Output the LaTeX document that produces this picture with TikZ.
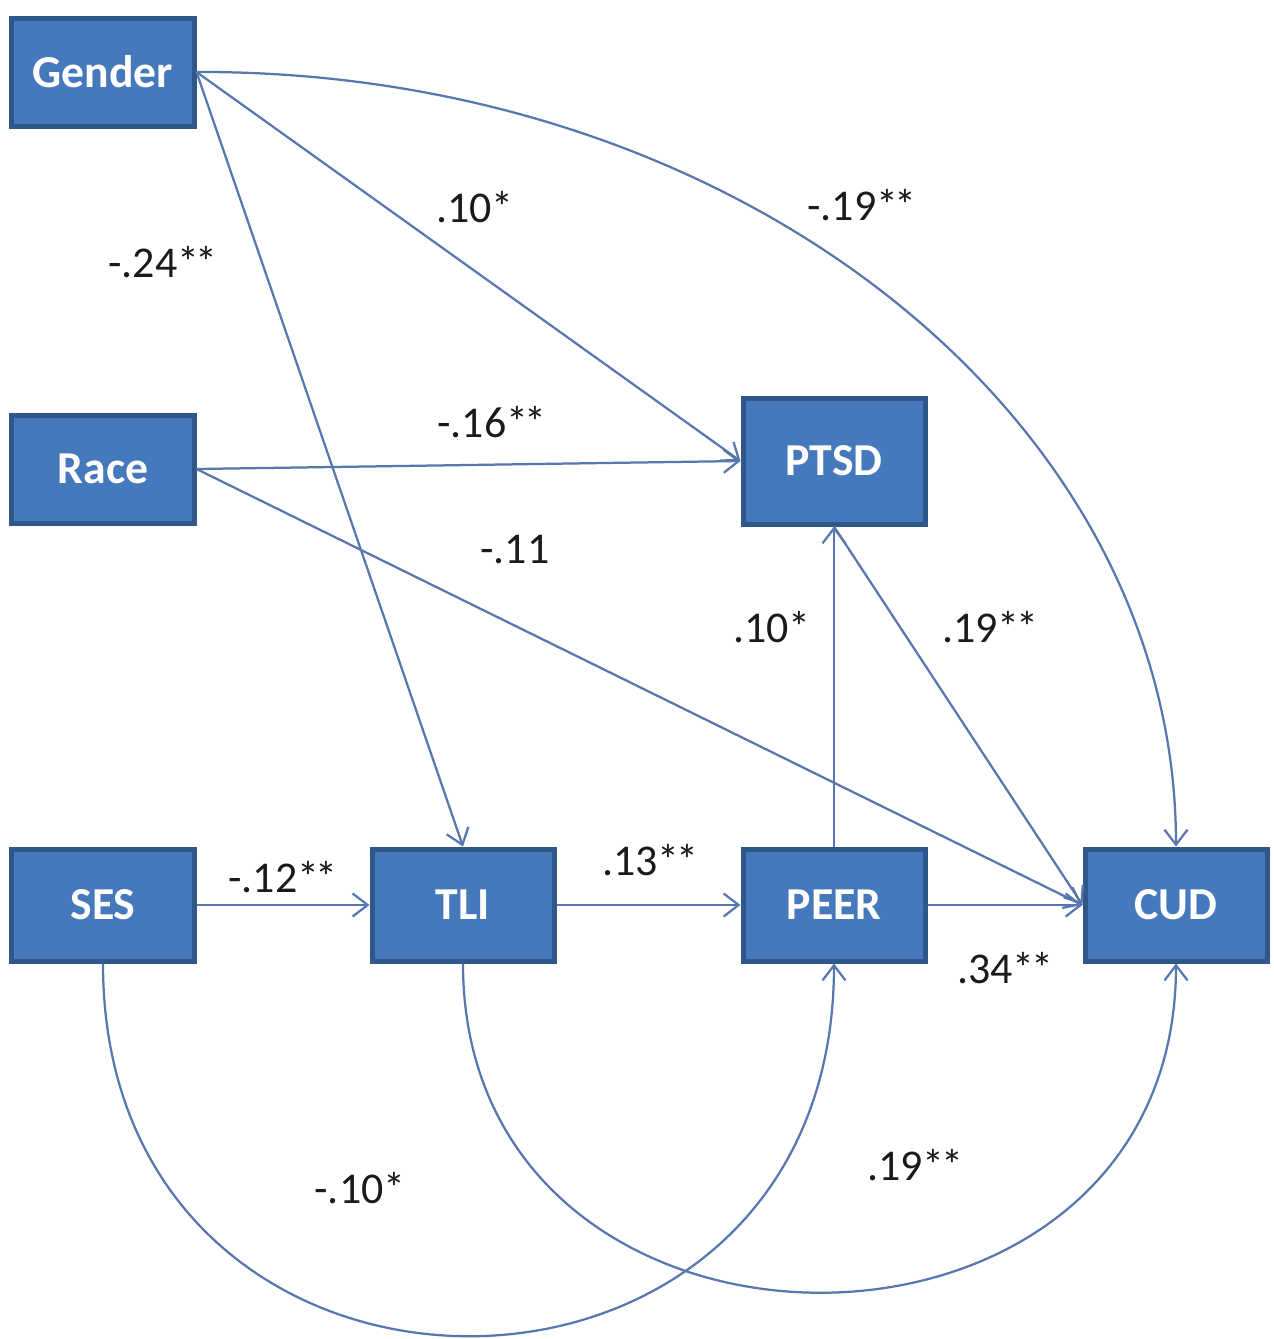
\documentclass[tikz,border=0pt]{standalone}
\usepackage{fontspec}
\setmainfont{Carlito}
\usepackage{xcolor}
\usetikzlibrary{arrows.meta,positioning}
\definecolor{Box}{HTML}{4579BC}
\definecolor{BoxEdge}{HTML}{2F578A}
\definecolor{Link}{HTML}{5877AE}
\definecolor{Ink}{HTML}{1A1A1A}
\newcommand{\sig}{*\kern-2pt*}
\tikzset{
  var/.style={draw=BoxEdge,fill=Box,line width=1mm,minimum width=36.4mm,minimum height=21.6mm,
    text=white,font=\bfseries\fontsize{26}{30}\selectfont},
  link/.style={Link,line width=0.45mm,-{Straight Barb[length=3mm,width=4.6mm]}},
  coef/.style={text=Ink,font=\fontsize{25}{29}\selectfont}
}
\begin{document}
\begin{tikzpicture}[x=0.2mm,y=-0.2mm]
\useasboundingbox (0,0) rectangle (1274,1339);
% variables
\node[var] (gender) at (103,72) {Gender};
\node[var] (race) at (103,469) {Race};
\node[var,minimum height=25.2mm] (ptsd) at (834,461) {PTSD};
\node[var,minimum height=22.4mm] (ses) at (103,905) {SES};
\node[var,minimum height=22.4mm] (tli) at (463,905) {TLI};
\node[var,minimum height=22.4mm] (peer) at (834,905) {PEER};
\node[var,minimum height=22.4mm] (cud) at (1176,905) {CUD};
% paths
\draw[link] (gender.east) -- (ptsd.west);
\draw[link] (gender.east) -- (tli.north);
\draw[link] (gender.east) .. controls (739,70) and (1176,418) .. (cud.north);
\draw[link] (race.east) -- (ptsd.west);
\draw[link] (race.east) -- (cud.west);
\draw[link] (peer.north) -- (ptsd.south);
\draw[link] (ptsd.south) -- (cud.west);
\draw[link] (ses.east) -- (tli.west);
\draw[link] (tli.east) -- (peer.west);
\draw[link] (peer.east) -- (cud.west);
\draw[link] (ses.south) .. controls (103,1460) and (834,1460) .. (peer.south);
\draw[link] (tli.south) .. controls (463,1402) and (1176,1402) .. (cud.south);
% coefficients
\foreach \n/\x/\y/\t in {gp/475/207/{.10*}, gt/163/262/{-.24\sig}, gc/862/205/{-.19\sig},
  rp/492/422/{-.16\sig}, rc/515/550/{-.11}, pp/772/627/{.10*}, pc/990/627/{.19\sig},
  st/283/877/{-.12\sig}, tp/650/860/{.13\sig}, ec/1005/968/{.34\sig},
  sp/360/1188/{-.10*}, tc/915/1165/{.19\sig}}{
  \node[coef] (c\n) at (\x,\y) {\t};
}
\end{tikzpicture}
\end{document}
